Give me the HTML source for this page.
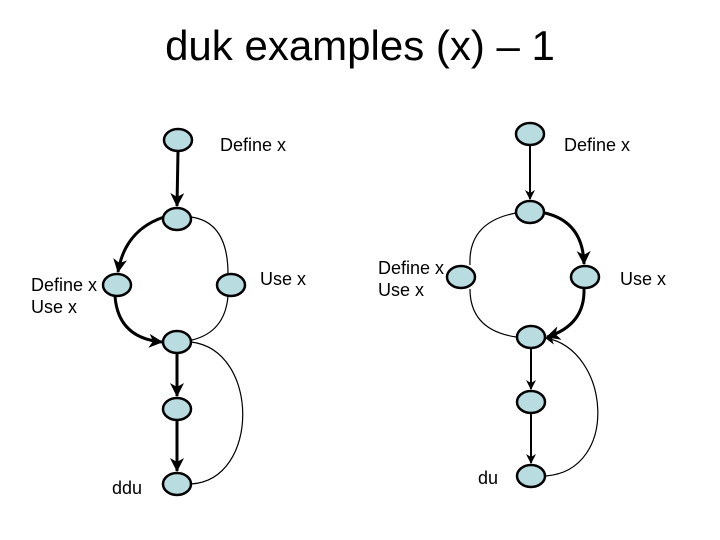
<!DOCTYPE html>
<html><head><style>
body{margin:0;background:#fff;}
svg{display:block;}
text{font-family:"Liberation Sans",sans-serif;fill:#000;}
</style></head><body>
<svg width="720" height="540" viewBox="0 0 720 540">
<defs>
<marker id="a" markerWidth="10" markerHeight="10" refX="9" refY="5" orient="auto" markerUnits="userSpaceOnUse"><path d="M0,0 L10,5 L0,10 L3,5 Z" fill="#000"/></marker>
<marker id="b" markerWidth="14" markerHeight="14" refX="13" refY="7" orient="auto" markerUnits="userSpaceOnUse"><path d="M0,0 L14,7 L0,14 L4,7 Z" fill="#000"/></marker>
</defs>
<text x="360" y="60" font-size="42" text-anchor="middle">duk examples (x) – 1</text>
<g font-size="18">
<text x="220" y="151">Define x</text>
<text x="564" y="151">Define x</text>
<text x="31" y="291">Define x</text>
<text x="31" y="313">Use x</text>
<text x="260" y="285">Use x</text>
<text x="378" y="274">Define x</text>
<text x="378" y="296">Use x</text>
<text x="620" y="285">Use x</text>
<text x="112" y="494">ddu</text>
<text x="478" y="484">du</text>
</g>
<g fill="none" stroke="#000">
<line x1="178" y1="151" x2="177" y2="206" stroke-width="3" marker-end="url(#b)"/>
<path d="M164,217 Q125,230 118,272" stroke-width="3" marker-end="url(#b)"/>
<path d="M191,217 Q228,222 228,274" stroke-width="1.2"/>
<path d="M115,296 Q118,338 162,342" stroke-width="3" marker-end="url(#b)"/>
<path d="M228,296 Q225,332 192,340" stroke-width="1.2"/>
<line x1="177" y1="353" x2="177" y2="396" stroke-width="3" marker-end="url(#b)"/>
<line x1="177" y1="420" x2="177" y2="471" stroke-width="3" marker-end="url(#b)"/>
<path d="M191,342 C260,350 260,480 191,484" stroke-width="1.2"/>
<line x1="530" y1="145" x2="530" y2="199" stroke-width="2" marker-end="url(#a)"/>
<path d="M545,213 Q583,222 584,264" stroke-width="3" marker-end="url(#b)"/>
<path d="M516,213 Q468,222 470,265" stroke-width="1.2"/>
<path d="M584,289 Q585,325 547,337" stroke-width="3" marker-end="url(#b)"/>
<path d="M470,289 Q470,330 516,337" stroke-width="1.2"/>
<line x1="531" y1="348" x2="531" y2="389" stroke-width="2" marker-end="url(#a)"/>
<line x1="531" y1="413" x2="531" y2="463" stroke-width="2" marker-end="url(#a)"/>
<path d="M546,476 C620,470 610,350 546,338" stroke-width="1.2" marker-end="url(#a)"/>
</g>
<g fill="#b8dce0" stroke="#000" stroke-width="2.5">
<ellipse cx="178" cy="140" rx="14" ry="11"/>
<ellipse cx="177" cy="219" rx="14" ry="11"/>
<ellipse cx="117" cy="285" rx="14" ry="11"/>
<ellipse cx="231" cy="285" rx="14" ry="11"/>
<ellipse cx="177" cy="342" rx="14" ry="11"/>
<ellipse cx="177" cy="409" rx="14" ry="11"/>
<ellipse cx="177" cy="484" rx="14" ry="11"/>
<ellipse cx="530" cy="134" rx="14" ry="11"/>
<ellipse cx="530" cy="212" rx="14" ry="11"/>
<ellipse cx="461" cy="277" rx="14" ry="11"/>
<ellipse cx="585" cy="277" rx="14" ry="11"/>
<ellipse cx="531" cy="337" rx="14" ry="11"/>
<ellipse cx="531" cy="402" rx="14" ry="11"/>
<ellipse cx="531" cy="476" rx="14" ry="11"/>
</g>
</svg>
</body></html>
